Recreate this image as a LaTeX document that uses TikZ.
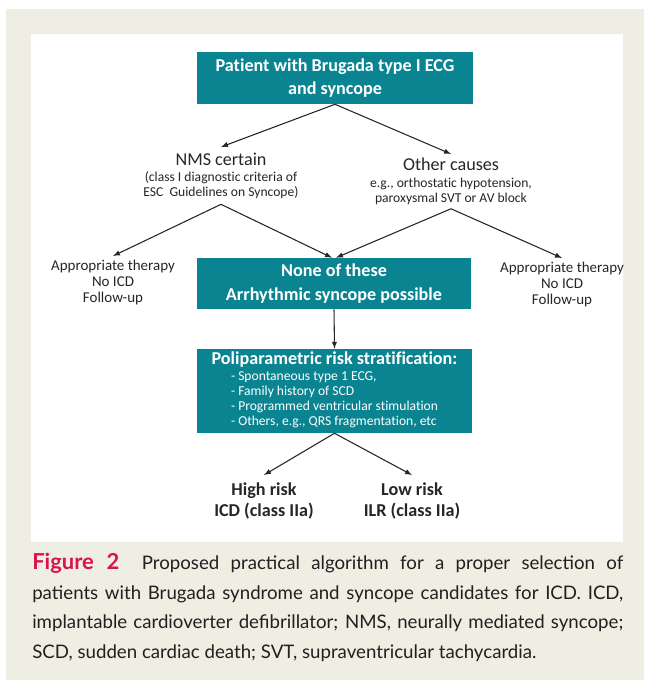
\documentclass[tikz,border=0pt]{standalone}
\usepackage{fontspec}
\setmainfont[Ligatures=NoCommon]{Carlito}
\newfontfamily\capfont{Lato}
\usetikzlibrary{positioning}
\definecolor{boxteal}{RGB}{10,132,145}
\definecolor{pagebeige}{RGB}{238,238,227}
\definecolor{figred}{RGB}{214,20,80}
\definecolor{captext}{RGB}{35,31,32}
\newcommand{\bigsz}{\fontsize{13.6}{16.5}\selectfont}
\newcommand{\smallsz}{\fontsize{10.2}{11.3}\selectfont}
\newcommand{\midsz}{\fontsize{11.25}{11.9}\selectfont}

\begin{document}
\begin{tikzpicture}[x=0.75pt,y=-0.75pt,>=latex,
    tealbox/.style={fill=boxteal,text=white,font=\bigsz\bfseries,align=center,inner sep=0pt},
    plain/.style={align=center,inner sep=3pt,text=black!85},
    flow/.style={->,line width=0.8pt,draw=black!85}]
    \useasboundingbox (0,0) rectangle (644,680);
    \fill[pagebeige] (6,9) rectangle (644,680);
    \fill[white] (31,34) rectangle (623,542);

    % boxes
    \node[tealbox,minimum width=207pt,minimum height=39pt] (patient) at (335,78)
        {Patient with Brugada type I ECG\hspace{0.6em}\\[1pt]and syncope};
    \node[tealbox,minimum width=205.5pt,minimum height=38.25pt] (none) at (334,283.5)
        {None of these\\[2pt]Arrhythmic syncope possible};
    \node[tealbox,minimum width=206.25pt,minimum height=63pt] (strat) at (334.5,391)
        {Poliparametric risk stratification:\\[1pt]
         {\smallsz\mdseries\begin{tabular}{@{}l@{}}
            - Spontaneous type 1 ECG,\\
            - Family history of SCD\\
            - Programmed ventricular stimulation\\
            - Others, e.g., QRS fragmentation, etc
         \end{tabular}}};

    % causes
    \node[plain,font=\smallsz,anchor=north,inner ysep=4pt] (nms) at (221,147)
        {{\bigsz NMS certain}\\[1pt](class I diagnostic criteria of\\ESC\ \ Guidelines on Syncope)};
    \node[plain,font=\smallsz,anchor=north] (other) at (451,154)
        {{\bigsz Other causes}\\[1pt]e.g., orthostatic hypotension,\\paroxysmal SVT or AV block};
    \node[plain,font=\midsz,anchor=north] (therl) at (113,256)
        {Appropriate therapy\\No ICD\\Follow-up};
    \node[plain,font=\midsz,anchor=north] (therr) at (562,258)
        {Appropriate therapy\\No ICD\\Follow-up};

    % outcome
    \node[plain,font=\fontsize{13.6}{15.3}\selectfont\bfseries,anchor=north,inner ysep=6pt] (high) at (264,475)
        {High risk\\ICD (class IIa)};
    \node[plain,font=\fontsize{13.6}{15.3}\selectfont\bfseries,anchor=north,inner ysep=6pt] (low) at (412,475)
        {Low risk\\ILR (class IIa)};

    \draw[flow] (patient.south) -- (nms.north);
    \draw[flow] (patient.south) -- (other.north);
    \draw[flow] (nms.south) -- (therl.north);
    \draw[flow] (nms.south) -- ([xshift=-1.5pt]none.north);
    \draw[flow] (other.south) -- ([xshift=1.5pt]none.north);
    \draw[flow] (other.south) -- (therr.north);
    \draw[flow] (none.south) -- (strat.north);
    \draw[flow] (strat.south) -- (high.north);
    \draw[flow] (strat.south) -- (low.north);

    % caption
    \node[anchor=north west,inner sep=0pt,text width=443.25pt,align=justify,
          text=captext,font=\capfont\fontsize{14}{22.2}\selectfont] (caption) at (32,553)
        {{\color{figred}\fontsize{16.5}{22}\selectfont\bfseries Figure 2}\ \ Proposed practical algorithm for a proper selection of\linebreak
         patients with Brugada syndrome and syncope candidates for ICD. ICD,\linebreak
         implantable cardioverter defibrillator; NMS, neurally mediated syncope;\linebreak
         SCD, sudden cardiac death; SVT, supraventricular tachycardia.};
\end{tikzpicture}
\end{document}
